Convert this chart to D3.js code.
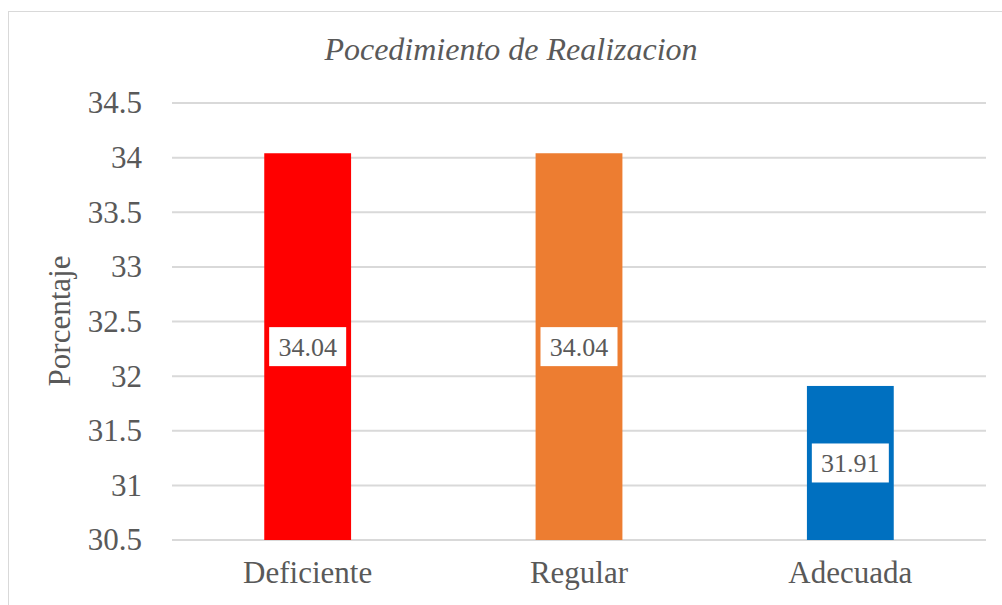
<!DOCTYPE html>
<html>
<head>
<meta charset="utf-8">
<script src="https://cdn.jsdelivr.net/npm/d3@7"></script>
</head>
<body style="margin:0">
<div id="app"></div>
<script>
const categories = ['Deficiente', 'Regular', 'Adecuada'];
const values = [34.04, 34.04, 31.91];
const barColors = ['#FF0000', '#ED7D31', '#0070C0'];
const yTicks = [30.5, 31, 31.5, 32, 32.5, 33, 33.5, 34, 34.5];
const chartTitle = 'Pocedimiento de Realizacion';
const yTitle = 'Porcentaje';

const width = 1002, height = 605;
const margin = { top: 103, right: 16, bottom: 65, left: 172 };
const textColor = '#595959';

const svg = d3.select('#app').append('svg')
    .attr('width', width)
    .attr('height', height);

// chart area border (runs off the right and bottom edge)
svg.append('rect')
    .attr('x', 8.5).attr('y', 11.5)
    .attr('width', 1012).attr('height', 610)
    .attr('fill', 'none')
    .attr('stroke', '#d9d9d9');

const x = d3.scaleBand()
    .domain(categories)
    .range([margin.left, width - margin.right])
    .paddingInner(0.68)
    .paddingOuter(0.34);

const y = d3.scaleLinear()
    .domain([30.5, 34.5])
    .range([height - margin.bottom, margin.top]);

// gridlines
svg.append('g')
    .selectAll('line')
    .data(yTicks)
    .join('line')
    .attr('x1', margin.left)
    .attr('x2', width - margin.right)
    .attr('y1', d => y(d))
    .attr('y2', d => y(d))
    .attr('stroke', '#d9d9d9')
    .attr('stroke-width', 2);

function serifText(sel, size) {
    sel.attr('font-family', 'Liberation Serif')
        .style('font-family', "'Liberation Serif'")
        .style('font-size', size + 'px')
        .style('fill', textColor);
}

// y axis labels
const yAxis = d3.axisLeft(y).tickValues(yTicks).tickSize(0).tickPadding(30).tickFormat(d3.format('~g'));
svg.append('g')
    .attr('transform', `translate(${margin.left},0)`)
    .call(yAxis)
    .call(g => g.select('.domain').remove())
    .attr('font-family', null)
    .attr('font-size', null)
    .selectAll('text')
    .call(serifText, 31);

// x axis labels
const xAxis = d3.axisBottom(x).tickSize(0).tickPadding(21);
svg.append('g')
    .attr('transform', `translate(0,${height - margin.bottom})`)
    .call(xAxis)
    .call(g => g.select('.domain').remove())
    .attr('font-family', null)
    .attr('font-size', null)
    .selectAll('text')
    .call(serifText, 31);

// bars
svg.append('g')
    .selectAll('rect')
    .data(values)
    .join('rect')
    .attr('x', (d, i) => x(categories[i]))
    .attr('width', x.bandwidth())
    .attr('y', d => y(d))
    .attr('height', d => y(30.5) - y(d))
    .attr('fill', (d, i) => barColors[i]);

// data labels in white boxes
const labels = svg.append('g')
    .selectAll('g')
    .data(values)
    .join('g')
    .attr('transform', (d, i) => `translate(${x(categories[i]) + x.bandwidth() / 2},${(y(d) + y(30.5)) / 2})`);

labels.append('rect')
    .attr('x', -38.5).attr('y', -19.5)
    .attr('width', 77).attr('height', 39)
    .attr('fill', '#fff');

labels.append('text')
    .attr('text-anchor', 'middle')
    .attr('dy', '0.35em')
    .call(serifText, 26)
    .text(d => d3.format('.2f')(d));

// title
svg.append('text')
    .attr('x', 511).attr('y', 60)
    .attr('text-anchor', 'middle')
    .call(serifText, 32)
    .style('font-style', 'italic')
    .text(chartTitle);

// y axis title
svg.append('text')
    .attr('transform', 'translate(70,321) rotate(-90)')
    .attr('text-anchor', 'middle')
    .call(serifText, 31)
    .text(yTitle);
</script>
</body>
</html>
